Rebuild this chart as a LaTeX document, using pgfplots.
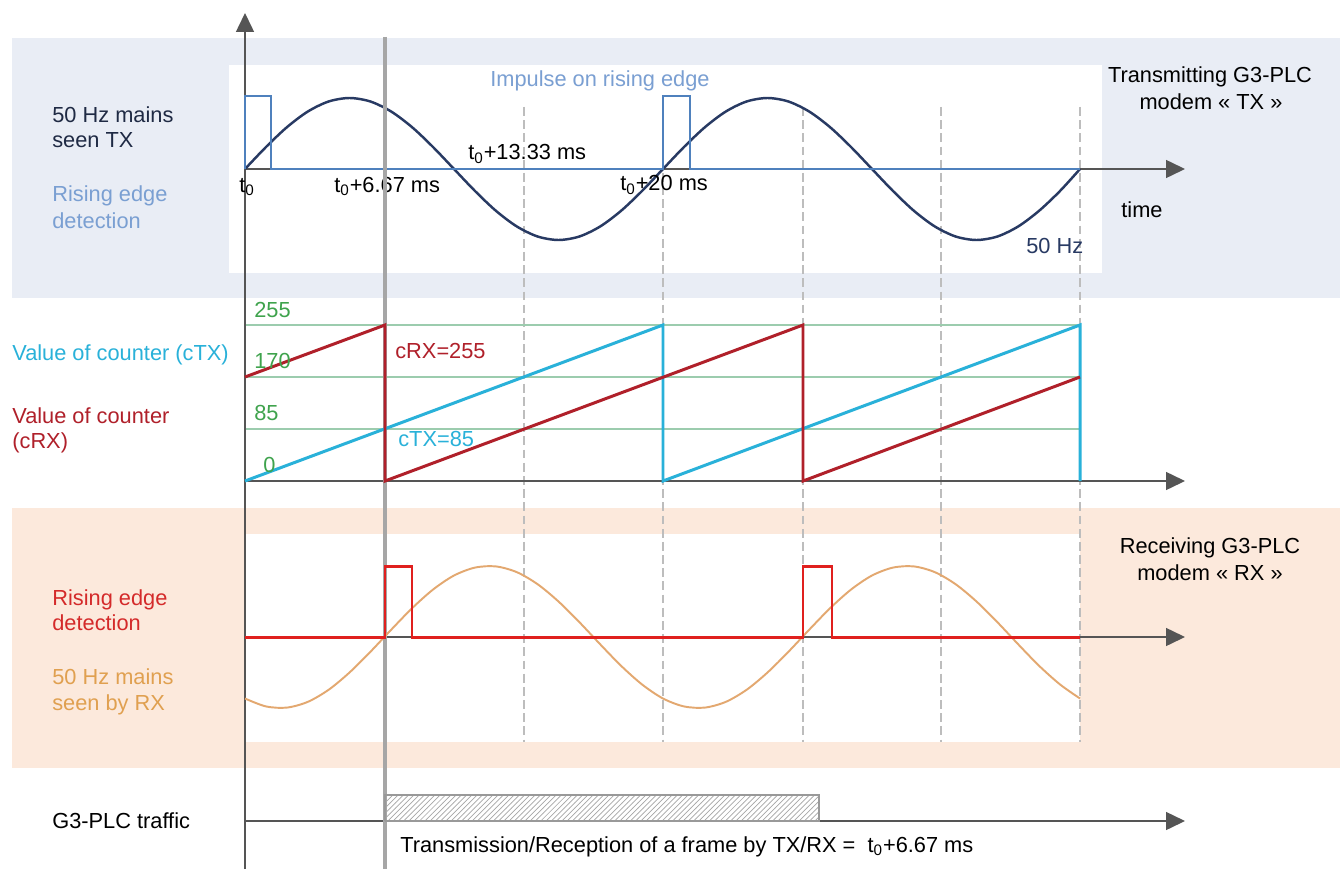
\documentclass[border=0pt]{standalone}
\usepackage{fontspec}
\setmainfont{Liberation Sans}
\usepackage{pgfplots}
\pgfplotsset{compat=1.18}
\usetikzlibrary{arrows.meta,patterns}

\definecolor{panelblue}{HTML}{E9EDF5}
\definecolor{panelorange}{HTML}{FCE9DC}
\definecolor{navy}{HTML}{283A63}
\definecolor{pulseblue}{HTML}{4F81BD}
\definecolor{lightblue}{HTML}{7A9FD2}
\definecolor{darktext}{HTML}{1F2A44}
\definecolor{gridgreen}{HTML}{9CCCAE}
\definecolor{textgreen}{HTML}{3FA34D}
\definecolor{ctx}{HTML}{29B1D9}
\definecolor{crx}{HTML}{B0202A}
\definecolor{rxred}{HTML}{E0201E}
\definecolor{rxorange}{HTML}{E3A870}
\definecolor{orangetext}{HTML}{E0A050}
\definecolor{redtext}{HTML}{D42A2A}
\definecolor{thickgray}{HTML}{A6A6A6}
\definecolor{dashgray}{HTML}{BDBDBD}
\definecolor{axisgray}{HTML}{555555}

\tikzset{tip/.style={-{Triangle[length=3.8mm,width=3.6mm]}}}

\begin{document}
\begin{tikzpicture}[font=\fontsize{12.4}{15}\selectfont, every node/.append style={inner sep=0pt}]
\begin{axis}[
    hide axis, scale only axis,
    width=26.86cm, height=17.38cm,
    xmin=0, xmax=1343, ymin=0, ymax=869,
    y dir=reverse, clip=false, no markers,
  ]
% page and panels
\addplot[fill=white, draw=none] coordinates {(0,0) (1343,0) (1343,869) (0,869)};
\addplot[fill=panelblue, draw=none] coordinates {(12,38) (1340,38) (1340,298) (12,298)};
\addplot[fill=white, draw=none] coordinates {(229,65) (1102,65) (1102,273) (229,273)};
\addplot[fill=panelorange, draw=none] coordinates {(12,508) (1340,508) (1340,768) (12,768)};
\addplot[fill=white, draw=none] coordinates {(245,534) (1080,534) (1080,742) (245,742)};

% dashed time marks
\foreach \xx in {524,663,803,941,1080} {
  \edef\tmp{\noexpand\addplot[dashgray, line width=0.7pt, dash pattern=on 5pt off 2.5pt] coordinates {(\xx,107) (\xx,742)};}
  \tmp
}

% counter levels 85 / 170 / 255
\addplot[gridgreen, line width=0.8pt] coordinates {(245,325) (1080,325)};
\addplot[gridgreen, line width=0.8pt] coordinates {(245,377) (1080,377)};
\addplot[gridgreen, line width=0.8pt] coordinates {(245,429) (1080,429)};

% axes
\addplot[axisgray, line width=0.85pt, tip] coordinates {(245,869) (245,13)};
\addplot[axisgray, line width=0.85pt, tip] coordinates {(245,169) (1185,169)};
\addplot[axisgray, line width=0.85pt, tip] coordinates {(245,481) (1185,481)};
\addplot[axisgray, line width=0.85pt, tip] coordinates {(245,637) (1185,637)};
\addplot[axisgray, line width=0.85pt, tip] coordinates {(245,821) (1185,821)};

% TX: 50 Hz mains
\addplot[navy, line width=1.4pt, smooth] coordinates {
 (245,169) (265.9,147.1) (286.8,127.3) (307.7,111.6) (328.6,101.5) (349.5,98)
 (370.4,101.5) (391.3,111.6) (412.2,127.3) (433.1,147.1) (454,169) (474.9,190.9)
 (495.8,210.7) (516.7,226.4) (537.6,236.5) (558.5,240) (579.4,236.5) (600.3,226.4)
 (621.2,210.7) (642.1,190.9) (663,169) (683.9,147.1) (704.8,127.3) (725.7,111.6)
 (746.6,101.5) (767.5,98) (788.4,101.5) (809.3,111.6) (830.2,127.3) (851.1,147.1)
 (872,169) (892.9,190.9) (913.8,210.7) (934.7,226.4) (955.6,236.5) (976.5,240)
 (997.4,236.5) (1018.3,226.4) (1039.2,210.7) (1060.1,190.9) (1080,169)};
% TX: rising edge detection
\addplot[pulseblue, line width=1.4pt] coordinates {
 (245,169) (245,96) (271,96) (271,169) (663,169) (663,96) (690,96) (690,169) (1080,169)};

% top texts
\node[anchor=base west, text=darktext] at (axis cs:52,123) {50 Hz mains};
\node[anchor=base west, text=darktext] at (axis cs:52,148) {seen TX};
\node[anchor=base west, text=lightblue] at (axis cs:52,202) {Rising edge};
\node[anchor=base west, text=lightblue] at (axis cs:52,228) {detection};
\node[anchor=base west, text=lightblue] at (axis cs:490,87) {Impulse on rising edge};
\node[anchor=base west] at (axis cs:239,192) {t\textsubscript{0}};
\node[anchor=base west] at (axis cs:334,192) {t\textsubscript{0}+6.67 ms};
\node[anchor=base west] at (axis cs:468,160) {t\textsubscript{0}+13.33 ms};
\node[anchor=base west] at (axis cs:620,191) {t\textsubscript{0}+20 ms};
\node[anchor=base] at (axis cs:1210,83) {Transmitting G3-PLC};
\node[anchor=base] at (axis cs:1211,110) {modem « TX »};
\node[anchor=base west] at (axis cs:1121,217) {time};
\node[anchor=base west, text=navy] at (axis cs:1026,253) {50 Hz};

% vertical marker at t0+6.67 ms
\addplot[thickgray, line width=2.8pt] coordinates {(385,37) (385,869)};

% counters
\addplot[ctx, line width=1.7pt] coordinates {
 (245,481) (663,325) (663,481) (1080,325) (1080,481)};
\addplot[crx, line width=1.7pt] coordinates {
 (245,377) (385,325) (385,481) (803,325) (803,481) (1080,377)};

\node[anchor=base west, text=textgreen] at (axis cs:254,317) {255};
\node[anchor=base west, text=textgreen] at (axis cs:254,368) {170};
\node[anchor=base west, text=textgreen] at (axis cs:254,420) {85};
\node[anchor=base west, text=textgreen] at (axis cs:263,472) {0};
\node[anchor=base west, text=ctx] at (axis cs:12,360) {Value of counter (cTX)};
\node[anchor=base west, text=crx] at (axis cs:12,423) {Value of counter};
\node[anchor=base west, text=crx] at (axis cs:12,448) {(cRX)};
\node[anchor=base west, text=crx] at (axis cs:395,358) {cRX=255};
\node[anchor=base west, text=ctx] at (axis cs:398,446) {cTX=85};

% RX: 50 Hz mains
\addplot[rxorange, line width=1.1pt, smooth] coordinates {
 (245,698.5) (265.9,706.4) (286.8,707.6) (307.7,701.9) (328.6,689.8) (349.5,672.5)
 (370.4,651.8) (391.3,629.6) (412.2,608.1) (433.1,589.5) (454,575.5) (474.9,567.6)
 (495.8,566.4) (516.7,572.1) (537.6,584.2) (558.5,601.5) (579.4,622.2) (600.3,644.4)
 (621.2,665.9) (642.1,684.5) (663,698.5) (683.9,706.4) (704.8,707.6) (725.7,701.9)
 (746.6,689.8) (767.5,672.5) (788.4,651.8) (809.3,629.6) (830.2,608.1) (851.1,589.5)
 (872,575.5) (892.9,567.6) (913.8,566.4) (934.7,572.1) (955.6,584.2) (976.5,601.5)
 (997.4,622.2) (1018.3,644.4) (1039.2,665.9) (1060.1,684.5) (1080,698.5)};
% RX: rising edge detection
\addplot[rxred, line width=1.7pt] coordinates {
 (245,637) (385,637) (385,566) (412,566) (412,637) (803,637) (803,566) (832,566) (832,637) (1080,637)};

\node[anchor=base west, text=redtext] at (axis cs:52,605) {Rising edge};
\node[anchor=base west, text=redtext] at (axis cs:52,630) {detection};
\node[anchor=base west, text=orangetext] at (axis cs:52,684) {50 Hz mains};
\node[anchor=base west, text=orangetext] at (axis cs:52,710) {seen by RX};
\node[anchor=base] at (axis cs:1210,553) {Receiving G3-PLC};
\node[anchor=base] at (axis cs:1210,580) {modem « RX »};

% G3-PLC traffic
\addplot[draw=gray!80, line width=0.8pt, pattern=north east lines, pattern color=gray!70] coordinates {
 (385,821) (385,795) (819,795) (819,821) (385,821)};
\node[anchor=base west] at (axis cs:52,828) {G3-PLC traffic};
\node[anchor=base west] at (axis cs:400,852) {Transmission/Reception of a frame by TX/RX =\ \ t\textsubscript{0}+6.67 ms};
\end{axis}
\end{tikzpicture}
\end{document}
